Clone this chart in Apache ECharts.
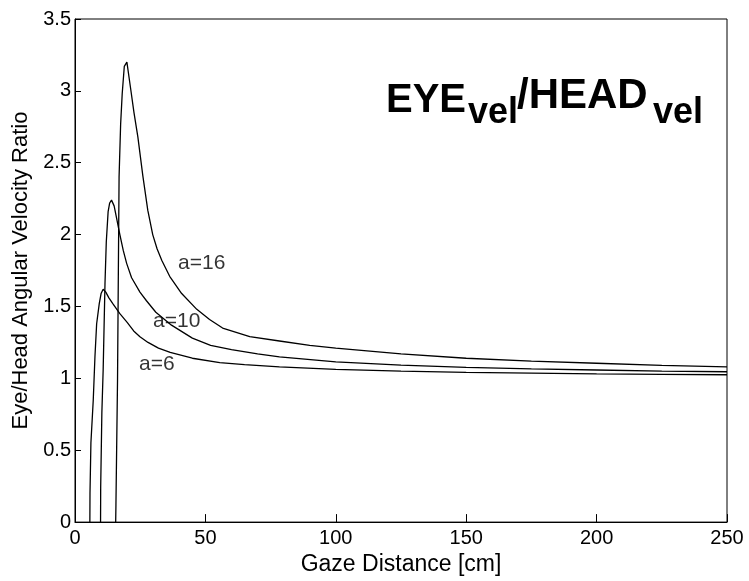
<!DOCTYPE html>
<html>
<head>
<meta charset="utf-8">
<script src="https://cdn.jsdelivr.net/npm/echarts@6/dist/echarts.min.js"></script>
<style>
html,body{margin:0;padding:0;background:#fff;}
#chart{width:749px;height:581px;}
</style>
</head>
<body>
<div id="chart"></div>
<script>
// ---- data ----
var xTicks = [0, 50, 100, 150, 200, 250];
var yTicks = [0, 0.5, 1, 1.5, 2, 2.5, 3, 3.5];

var a6X = [5.7, 5.75, 6.1, 7.0, 7.65, 8.3, 9.3, 10.0, 10.8, 11.8, 13, 14.5, 17.2, 20, 22.5, 24.9, 28, 32, 36.5, 45, 55.5, 65, 78.4, 100, 125, 150, 175, 200, 225, 250];
var a6Y = [0, 0.2, 0.55, 0.85, 1.15, 1.38, 1.52, 1.59, 1.62, 1.60, 1.56, 1.52, 1.45, 1.39, 1.33, 1.29, 1.25, 1.21, 1.18, 1.14, 1.11, 1.095, 1.08, 1.062, 1.05, 1.042, 1.036, 1.031, 1.028, 1.025];

var a10X = [9.8, 9.85, 10.3, 10.8, 11.5, 12.0, 12.7, 13.3, 14.0, 15.0, 16.0, 17.2, 18.5, 19.8, 21.7, 24.9, 27.4, 31, 37, 45, 52, 60, 70, 78.4, 100, 125, 150, 175, 200, 225, 250];
var a10Y = [0, 0.24, 0.76, 1.06, 1.66, 1.95, 2.16, 2.22, 2.24, 2.20, 2.11, 2.0, 1.89, 1.80, 1.70, 1.60, 1.54, 1.46, 1.37, 1.28, 1.23, 1.20, 1.17, 1.15, 1.115, 1.092, 1.077, 1.066, 1.058, 1.051, 1.046];

var a16X = [15.6, 15.7, 16.3, 16.9, 17.5, 18.1, 18.9, 19.9, 21.3, 22.6, 24.1, 26.0, 27.9, 29.8, 31.5, 33.3, 36.3, 40.9, 46.7, 51.6, 56.6, 67, 78.4, 90, 100, 125, 150, 175, 200, 225, 250];
var a16Y = [0, 0.12, 0.98, 2.4, 2.77, 2.98, 3.17, 3.2, 3.02, 2.85, 2.68, 2.41, 2.17, 2.0, 1.90, 1.82, 1.71, 1.59, 1.48, 1.41, 1.35, 1.29, 1.26, 1.23, 1.21, 1.17, 1.14, 1.12, 1.105, 1.09, 1.08];

var curveLabels = ['a=16', 'a=10', 'a=6'];
var curveLabelX = [48.6, 39.0, 31.4];
var curveLabelY = [1.80, 1.395, 1.10];

var xName = 'Gaze Distance [cm]';
var yName = 'Eye/Head Angular Velocity Ratio';

function pairs(xs, ys) { return xs.map(function (x, i) { return [x, ys[i]]; }); }

var FONT = '"Liberation Sans", Arial, Helvetica, sans-serif';
var chart = echarts.init(document.getElementById('chart'), null, {renderer: 'canvas'});

var lineStyle = {color: '#000', width: 1.3};
var option = {
  animation: false,
  backgroundColor: '#fff',
  grid: {left: 75, right: 22, top: 19, bottom: 45, show: true, borderColor: '#000', borderWidth: 1},
  xAxis: {
    type: 'value', min: xTicks[0], max: xTicks[xTicks.length - 1], interval: 50,
    name: xName, nameLocation: 'middle', nameGap: 24,
    nameTextStyle: {fontFamily: FONT, fontSize: 23, color: '#000'},
    axisLine: {lineStyle: {color: '#000', width: 1}},
    axisTick: {inside: true, length: 8, lineStyle: {color: '#000'}},
    axisLabel: {fontFamily: FONT, fontSize: 20, color: '#000', margin: 6},
    splitLine: {show: false}
  },
  yAxis: {
    type: 'value', min: yTicks[0], max: yTicks[yTicks.length - 1], interval: 0.5,
    name: yName, nameLocation: 'middle', nameGap: 34, nameRotate: 90,
    nameTextStyle: {fontFamily: FONT, fontSize: 22, color: '#000'},
    axisLine: {lineStyle: {color: '#000', width: 1}},
    axisTick: {inside: true, length: 6, lineStyle: {color: '#000'}},
    axisLabel: {fontFamily: FONT, fontSize: 20, color: '#000', margin: 4},
    splitLine: {show: false}
  },
  series: [
    {type: 'line', data: pairs(a6X, a6Y), showSymbol: false, symbol: 'none', lineStyle: lineStyle, z: 3},
    {type: 'line', data: pairs(a10X, a10Y), showSymbol: false, symbol: 'none', lineStyle: lineStyle, z: 3},
    {type: 'line', data: pairs(a16X, a16Y), showSymbol: false, symbol: 'none', lineStyle: lineStyle, z: 3},
    {
      type: 'scatter', symbolSize: 0, z: 4,
      data: curveLabelX.map(function (x, i) { return {value: [x, curveLabelY[i]], name: curveLabels[i]}; }),
      label: {show: true, position: 'inside', formatter: '{b}', fontFamily: FONT, fontSize: 21, color: '#000'}
    }
  ],
  graphic: [
    {type: 'text', left: 386, top: 81, style: {text: 'EYE', font: 'bold 40px ' + FONT, fill: '#000'}},
    {type: 'text', left: 468, top: 95, style: {text: 'vel', font: 'bold 36px ' + FONT, fill: '#000'}},
    {type: 'text', left: 517, top: 75, style: {text: '/HEAD', font: 'bold 42px ' + FONT, fill: '#000'}},
    {type: 'text', left: 653, top: 95, style: {text: 'vel', font: 'bold 36px ' + FONT, fill: '#000'}}
  ]
};
chart.setOption(option);
</script>
</body>
</html>
